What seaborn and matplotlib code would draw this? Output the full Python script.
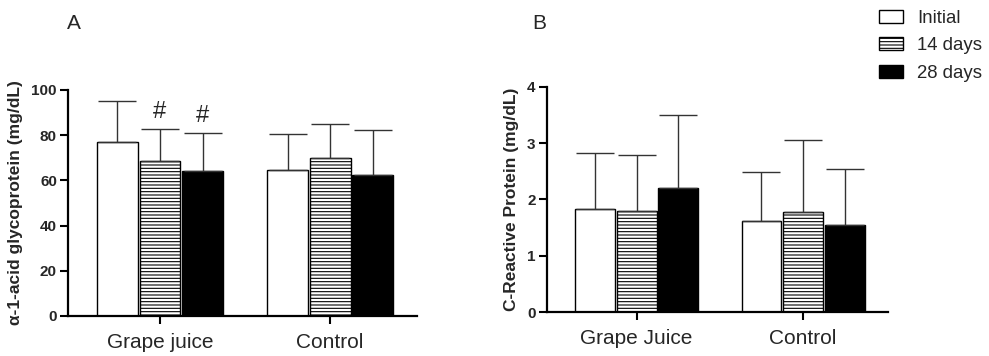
import seaborn as sns
import matplotlib.pyplot as plt
import pandas as pd

groups_a = ["Grape juice", "Control"]
groups_b = ["Grape Juice", "Control"]
times = ["Initial", "14 days", "28 days"]

# panel A: alpha-1-acid glycoprotein, mean and upper SD per group
agp_mean = {"Initial": [77.0, 64.7], "14 days": [68.5, 70.0], "28 days": [64.0, 62.5]}
agp_sd = {"Initial": [18.0, 15.8], "14 days": [14.2, 15.0], "28 days": [17.0, 20.0]}
agp_marks = {"14 days": ["#", ""], "28 days": ["#", ""]}

# panel B: C-reactive protein
crp_mean = {"Initial": [1.83, 1.61], "14 days": [1.80, 1.77], "28 days": [2.21, 1.55]}
crp_sd = {"Initial": [0.99, 0.88], "14 days": [0.99, 1.29], "28 days": [1.29, 0.99]}

colors = {"Initial": "white", "14 days": "white", "28 days": "black"}


def to_frame(groups, means, sds):
    rows = []
    for t in times:
        for i, g in enumerate(groups):
            rows.append({"group": g, "time": t, "value": means[t][i], "sd": sds[t][i]})
    return pd.DataFrame(rows)


def draw(ax, groups, means, sds, ylim, yticks, ylabel, marks=None):
    df = to_frame(groups, means, sds)
    sns.barplot(data=df, x="group", y="value", hue="time", order=groups, hue_order=times,
                palette=colors, edgecolor="black", linewidth=1.0, errorbar=None,
                width=0.75, gap=0.04, ax=ax, legend=False)
    bars = list(ax.containers)
    for t, cont in zip(times, bars):
        xs = [p.get_x() + p.get_width() / 2 for p in cont.patches]
        hs = [p.get_height() for p in cont.patches]
        ax.errorbar(xs, hs, yerr=[[0] * len(hs), sds[t]], fmt="none", ecolor="#333333",
                    elinewidth=1.0, capsize=14, capthick=1.0, zorder=1)
        if t == "14 days":
            for p in cont.patches:
                p.set_hatch("-----")
        if marks and t in marks:
            for x, h, s, m in zip(xs, hs, sds[t], marks[t]):
                if m:
                    ax.text(x, h + s + (ylim[1] - ylim[0]) * 0.025, m, ha="center", va="bottom",
                            fontsize=17)
    ax.set_ylim(*ylim)
    ax.set_xlim(-0.54, 1.51)
    ax.set_yticks(yticks)
    ax.set_yticklabels([str(v) for v in yticks], fontweight="bold", fontsize=11)
    ax.tick_params(axis="x", bottom=True, labelsize=15, length=6, width=1.5, pad=6,
                   direction="out", color="black")
    ax.tick_params(axis="y", left=True, length=6, width=1.5, pad=2, direction="out",
                   color="black")
    ax.set_xlabel("")
    ax.set_ylabel(ylabel, fontweight="bold", fontsize=12.5, labelpad=6)
    for s in ["top", "right"]:
        ax.spines[s].set_visible(False)
    for s in ["left", "bottom"]:
        ax.spines[s].set_linewidth(1.6)
        ax.spines[s].set_color("black")
    return bars


sns.set_style("ticks")
plt.rcParams["font.family"] = ["Liberation Sans", "DejaVu Sans"]
plt.rcParams["hatch.linewidth"] = 0.8
plt.rcParams["hatch.color"] = "#333333"

fig = plt.figure(figsize=(9.89, 3.56), dpi=100)
ax_a = fig.add_axes([0.0688, 0.1124, 0.3528, 0.6348])
ax_b = fig.add_axes([0.5528, 0.1228, 0.3451, 0.6337])

draw(ax_a, groups_a, agp_mean, agp_sd, (0, 100), [0, 20, 40, 60, 80, 100],
     "α-1-acid glycoprotein (mg/dL)", agp_marks)
bars_b = draw(ax_b, groups_b, crp_mean, crp_sd, (0, 4), [0, 1, 2, 3, 4],
              "C-Reactive Protein (mg/dL)")

fig.text(0.068, 0.935, "A", fontsize=15, va="center")
fig.text(0.538, 0.935, "B", fontsize=15, va="center")

handles = [c.patches[0] for c in bars_b]
fig.legend(handles, times, loc="upper left", bbox_to_anchor=(0.889, 0.972), frameon=False,
           fontsize=13.4, handlelength=1.3, handleheight=0.7, labelspacing=0.56,
           handletextpad=0.75, borderpad=0, borderaxespad=0)

fig.savefig("out.png", dpi=100)
